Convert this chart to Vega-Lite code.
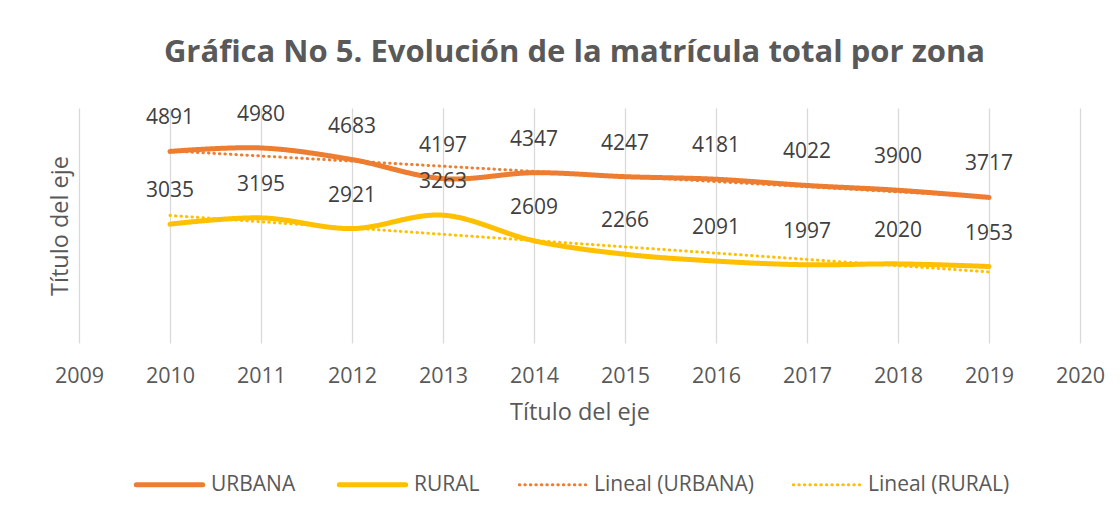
{
  "$schema": "https://vega.github.io/schema/vega-lite/v6.json",
  "autosize": {"type": "none"},
  "width": 1001,
  "height": 235,
  "padding": {"left": 79, "top": 108, "right": 40, "bottom": 173},
  "background": "white",
  "config": {
    "view": {"stroke": null},
    "font": "Open Sans"
  },
  "title": {
    "text": "Gráfica No 5. Evolución de la matrícula total por zona",
    "fontSize": 31,
    "fontWeight": "bold",
    "color": "#595959",
    "anchor": "middle",
    "offset": 35,
    "dx": -5
  },
  "data": {
    "values": [
      {"anio": 2010, "zona": "URBANA", "lineal": "Lineal (URBANA)", "valor": 4891},
      {"anio": 2011, "zona": "URBANA", "lineal": "Lineal (URBANA)", "valor": 4980},
      {"anio": 2012, "zona": "URBANA", "lineal": "Lineal (URBANA)", "valor": 4683},
      {"anio": 2013, "zona": "URBANA", "lineal": "Lineal (URBANA)", "valor": 4197},
      {"anio": 2014, "zona": "URBANA", "lineal": "Lineal (URBANA)", "valor": 4347},
      {"anio": 2015, "zona": "URBANA", "lineal": "Lineal (URBANA)", "valor": 4247},
      {"anio": 2016, "zona": "URBANA", "lineal": "Lineal (URBANA)", "valor": 4181},
      {"anio": 2017, "zona": "URBANA", "lineal": "Lineal (URBANA)", "valor": 4022},
      {"anio": 2018, "zona": "URBANA", "lineal": "Lineal (URBANA)", "valor": 3900},
      {"anio": 2019, "zona": "URBANA", "lineal": "Lineal (URBANA)", "valor": 3717},
      {"anio": 2010, "zona": "RURAL", "lineal": "Lineal (RURAL)", "valor": 3035},
      {"anio": 2011, "zona": "RURAL", "lineal": "Lineal (RURAL)", "valor": 3195},
      {"anio": 2012, "zona": "RURAL", "lineal": "Lineal (RURAL)", "valor": 2921},
      {"anio": 2013, "zona": "RURAL", "lineal": "Lineal (RURAL)", "valor": 3263},
      {"anio": 2014, "zona": "RURAL", "lineal": "Lineal (RURAL)", "valor": 2609},
      {"anio": 2015, "zona": "RURAL", "lineal": "Lineal (RURAL)", "valor": 2266},
      {"anio": 2016, "zona": "RURAL", "lineal": "Lineal (RURAL)", "valor": 2091},
      {"anio": 2017, "zona": "RURAL", "lineal": "Lineal (RURAL)", "valor": 1997},
      {"anio": 2018, "zona": "RURAL", "lineal": "Lineal (RURAL)", "valor": 2020},
      {"anio": 2019, "zona": "RURAL", "lineal": "Lineal (RURAL)", "valor": 1953}
    ]
  },
  "encoding": {
    "x": {
      "field": "anio",
      "type": "quantitative",
      "scale": {"domain": [2009, 2020], "nice": false, "zero": false},
      "axis": {
        "values": [2009, 2010, 2011, 2012, 2013, 2014, 2015, 2016, 2017, 2018, 2019, 2020],
        "format": "d",
        "grid": true,
        "gridColor": "#d9d9d9",
        "gridWidth": 1.3,
        "domain": false,
        "ticks": false,
        "labelFlush": false,
        "labelOverlap": false,
        "labelPadding": 22,
        "labelFontSize": 21.5,
        "labelColor": "#595959",
        "title": "Título del eje",
        "titleFontSize": 23.5,
        "titleFontWeight": "normal",
        "titleColor": "#595959",
        "titlePadding": 14
      }
    },
    "y": {
      "field": "valor",
      "type": "quantitative",
      "scale": {"domain": [0, 6000], "nice": false},
      "axis": {
        "labels": false,
        "ticks": false,
        "domain": false,
        "grid": false,
        "title": "Título del eje",
        "titleFontSize": 23.5,
        "titleFontWeight": "normal",
        "titleColor": "#595959",
        "titlePadding": 7
      }
    }
  },
  "layer": [
    {
      "mark": {"type": "line", "strokeWidth": 5, "interpolate": "cardinal", "strokeCap": "round"},
      "encoding": {
        "color": {
          "field": "zona",
          "type": "nominal",
          "scale": {
            "domain": ["URBANA", "RURAL", "Lineal (URBANA)", "Lineal (RURAL)"],
            "range": ["#ED7D31", "#FFC000", "#ED7D31", "#FFC000"]
          },
          "legend": {
            "orient": "none",
            "legendX": 80,
            "legendY": 366,
            "direction": "horizontal",
            "title": null,
            "symbolType": "stroke",
            "symbolSize": 4400,
            "symbolStrokeWidth": 5,
            "labelFontSize": 21,
            "labelColor": "#595959",
            "labelOffset": 31,
            "columnPadding": 33,
            "labelLimit": 300,
            "encode": {
              "symbols": {
                "update": {
                  "strokeWidth": {"signal": "test(/Lineal/, datum.label) ? 3 : 5"},
                  "strokeCap": {"value": "round"}
                }
              }
            }
          }
        },
        "strokeDash": {
          "field": "zona",
          "type": "nominal",
          "scale": {
            "domain": ["URBANA", "RURAL", "Lineal (URBANA)", "Lineal (RURAL)"],
            "range": [[1, 0], [1, 0], [0.5, 5], [0.5, 5]]
          },
          "legend": null
        }
      }
    },
    {
      "transform": [
        {"regression": "valor", "on": "anio", "groupby": ["lineal"], "extent": [2010, 2019]}
      ],
      "mark": {"type": "line", "strokeWidth": 3, "strokeCap": "round"},
      "encoding": {
        "color": {"field": "lineal", "type": "nominal"},
        "strokeDash": {"field": "lineal", "type": "nominal"}
      }
    },
    {
      "mark": {"type": "text", "dy": -33, "fontSize": 21, "color": "#404040", "baseline": "middle"},
      "encoding": {
        "text": {"field": "valor", "type": "quantitative", "format": "d"}
      }
    }
  ]
}
